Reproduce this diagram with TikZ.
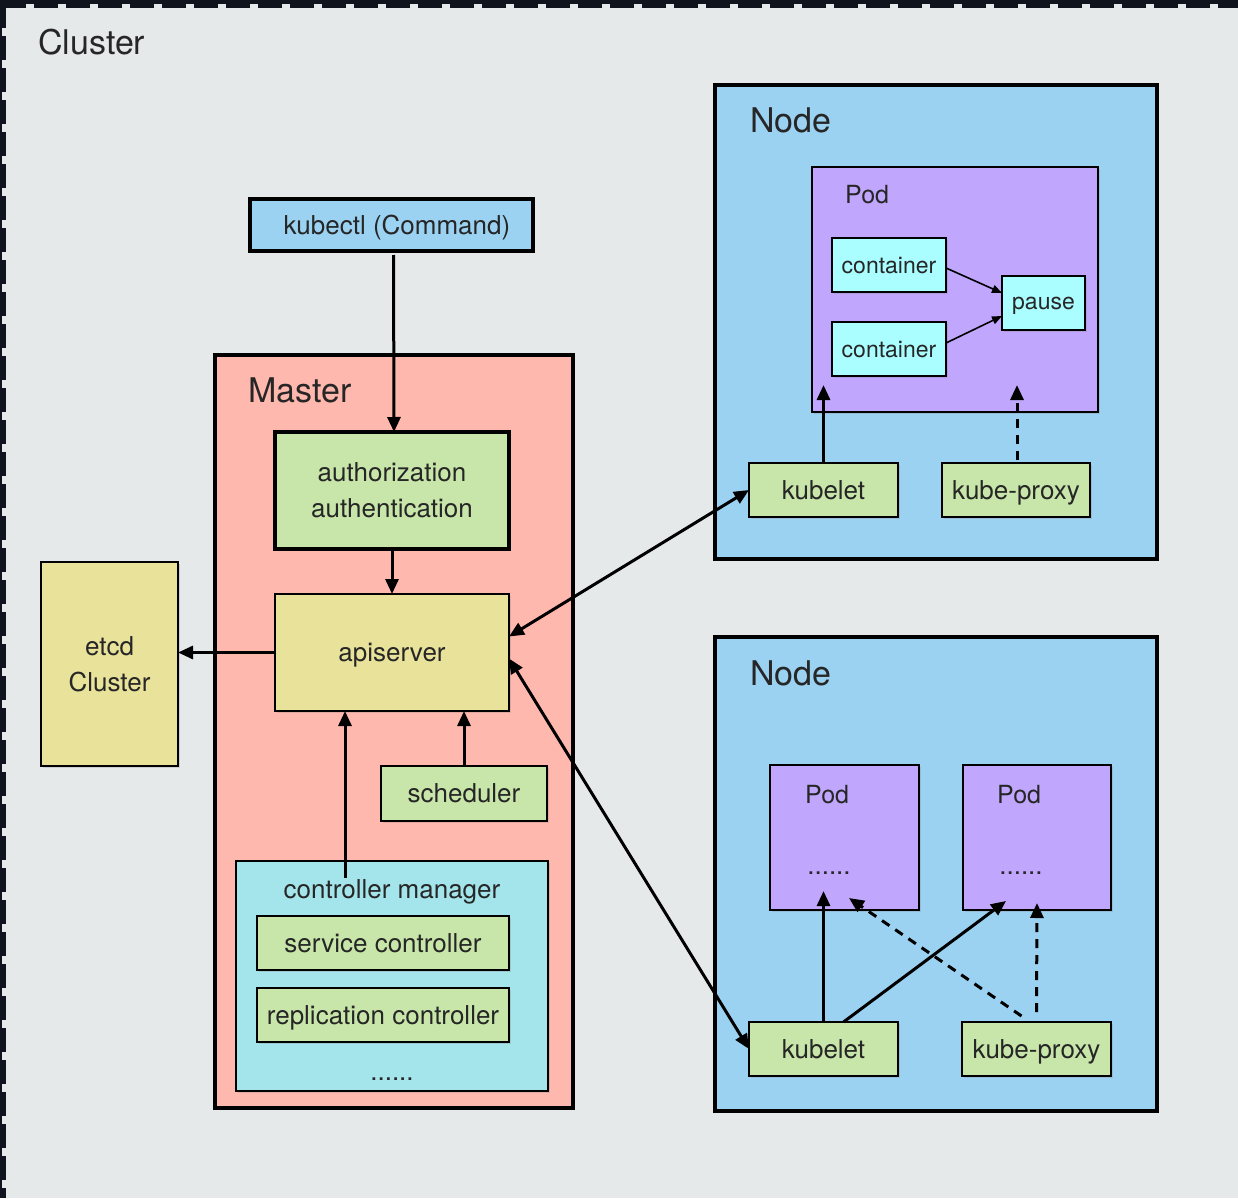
\documentclass[tikz,border=0pt]{standalone}
\usepackage{fontspec}
\setmainfont{TeX Gyre Heros}
\usetikzlibrary{arrows.meta,shadows,calc}
\definecolor{darkbg}{HTML}{10141C}
\definecolor{clusterbg}{HTML}{E6E9EA}
\definecolor{blue}{HTML}{9BD2F2}
\definecolor{master}{HTML}{FFB8AD}
\definecolor{green}{HTML}{C8E6A9}
\definecolor{khaki}{HTML}{E8E29A}
\definecolor{cyanbox}{HTML}{A3E5EA}
\definecolor{purple}{HTML}{C1A6FD}
\definecolor{contbox}{HTML}{AAFEFF}
\definecolor{txt}{HTML}{262626}
\tikzset{
  basebox/.style={draw=black, inner sep=0pt, outer sep=0pt, text=txt, align=center,
    text depth=0pt, font=\fontsize{26}{36}\selectfont,
    drop shadow={shadow xshift=2pt, shadow yshift=-2pt, opacity=0.25}},
  thinbox/.style={basebox, line width=1.6pt},
  thickbox/.style={basebox, line width=3.2pt},
  title/.style={text=txt, inner sep=0pt, anchor=base west, font=\fontsize{34}{40}\selectfont},
  podtitle/.style={text=txt, inner sep=0pt, anchor=base west, font=\fontsize{25}{30}\selectfont},
  lbl/.style={text=txt, inner sep=0pt, anchor=base, font=\fontsize{26}{30}\selectfont},
  arr/.style={line width=3pt, -{Triangle[length=15pt,width=13pt]}},
  dblarr/.style={line width=3pt, {Triangle[length=15pt,width=13pt]}-{Triangle[length=15pt,width=13pt]}},
  dasharr/.style={arr, dash pattern=on 9pt off 7pt},
  smallarr/.style={line width=1.6pt, -{Triangle[length=10pt,width=8pt]}},
}
\begin{document}
\begin{tikzpicture}[x=1pt,y=-1pt]
\useasboundingbox (0,0) rectangle (1238,1198);
% cluster background
\fill[darkbg] (0,0) rectangle (1238,1198);
\fill[clusterbg] (2,4) rectangle (1238,1198);
\draw[darkbg, line width=4pt, dash pattern=on 24pt off 8pt] (2,6) -- (1238,6);
\draw[darkbg, line width=4pt, dash pattern=on 24pt off 8pt] (4,4) -- (4,1198);
\node[title] (clusterlbl) at (38,55) {Cluster};

% kubectl
\node[thickbox, fill=blue, minimum width=283pt, minimum height=52pt] (kubectl) at (391.5,225) {\hspace*{11pt}kubectl (Command)};

% master
\node[thickbox, fill=master, minimum width=358pt, minimum height=753pt] (master) at (394,731.5) {};
\node[title] (masterlbl) at (248,402) {Master};
\node[thickbox, fill=green, minimum width=234pt, minimum height=117pt] (auth) at (392,490.5) {authorization\\authentication};
\node[thinbox, fill=khaki, minimum width=234pt, minimum height=117pt] (apiserver) at (392,652.5) {apiserver};
\node[thinbox, fill=khaki, minimum width=137pt, minimum height=204pt] (etcd) at (109.5,664) {etcd\\Cluster};
\node[thinbox, fill=green, minimum width=166pt, minimum height=55pt] (scheduler) at (464,793.5) {scheduler};
\node[thinbox, fill=cyanbox, minimum width=312pt, minimum height=230pt] (ctrl) at (392,976) {};
\node[lbl] (ctrllbl) at (392,898) {controller manager};
\node[thinbox, fill=green, minimum width=252pt, minimum height=54pt] (svc) at (383,943) {service controller};
\node[thinbox, fill=green, minimum width=252pt, minimum height=54pt] (repl) at (383,1015) {replication controller};
\node[lbl] (ctrldots) at (392,1080) {......};

% node 1
\node[thickbox, fill=blue, minimum width=442pt, minimum height=474pt] (node1) at (936,322) {};
\node[title] (node1lbl) at (750,133) {Node};
\node[thinbox, fill=purple, minimum width=286pt, minimum height=245pt] (pod1) at (955,289.5) {};
\node[podtitle] (pod1lbl) at (845,204) {Pod};
\node[thinbox, fill=contbox, minimum width=114pt, minimum height=54pt, font=\fontsize{23}{28}\selectfont] (cont1) at (889,265) {container};
\node[thinbox, fill=contbox, minimum width=114pt, minimum height=54pt, font=\fontsize{23}{28}\selectfont] (cont2) at (889,349) {container};
\node[thinbox, fill=contbox, minimum width=83pt, minimum height=54pt, font=\fontsize{23}{28}\selectfont] (pause) at (1043.5,303) {pause};
\node[thinbox, fill=green, minimum width=149pt, minimum height=54pt] (kubelet1) at (823.5,490) {kubelet};
\node[thinbox, fill=green, minimum width=148pt, minimum height=54pt] (proxy1) at (1016,490) {kube-proxy};

% node 2
\node[thickbox, fill=blue, minimum width=442pt, minimum height=474pt] (node2) at (936,874) {};
\node[title] (node2lbl) at (750,685) {Node};
\node[thinbox, fill=purple, minimum width=149pt, minimum height=145pt] (pod2a) at (844.5,837.5) {};
\node[podtitle] (pod2albl) at (805,803) {Pod};
\node[lbl] (pod2adots) at (829,874) {......};
\node[thinbox, fill=purple, minimum width=148pt, minimum height=145pt] (pod2b) at (1037,837.5) {};
\node[podtitle] (pod2blbl) at (997,803) {Pod};
\node[lbl] (pod2bdots) at (1021,874) {......};
\node[thinbox, fill=green, minimum width=149pt, minimum height=54pt] (kubelet2) at (823.5,1049) {kubelet};
\node[thinbox, fill=green, minimum width=149pt, minimum height=54pt] (proxy2) at (1036.5,1049) {kube-proxy};

% coordinates for free ends
\coordinate (cmtop) at (345,878);
\coordinate (p1a) at (823.5,385);
\coordinate (p1b) at (1017,385);
\coordinate (p2a) at (823.5,891);
\coordinate (p2b) at (1006,901);
\coordinate (p2c) at (849,898);
\coordinate (p2d) at (1037,903);

% arrows
\draw[arr] ([xshift=2pt,yshift=-4pt]kubectl.south) -- ([xshift=2pt]auth.north);
\draw[arr] (auth) -- (apiserver);
\draw[arr] (apiserver.west) -- (apiserver.west -| etcd.east);
\draw[arr] (scheduler.north) -- (scheduler.north |- apiserver.south);
\draw[arr] (cmtop) -- (cmtop |- apiserver.south);
\draw[dblarr] ([yshift=16pt]apiserver.east) -- (kubelet1.west);
\draw[dblarr] ([yshift=-6pt]apiserver.east) -- (kubelet2.west);
\draw[smallarr] ([yshift=-3pt]cont1.east) -- ([yshift=10pt]pause.west);
\draw[smallarr] ([yshift=6pt]cont2.east) -- ([yshift=-13pt]pause.west);
\draw[arr] (kubelet1.north) -- (p1a);
\draw[dasharr] ([xshift=1pt,yshift=3pt]proxy1.north) -- (p1b);
\draw[arr] (kubelet2.north) -- (p2a);
\draw[arr] ([xshift=20pt]kubelet2.north) -- (p2b);
\draw[dasharr] ([xshift=-15pt,yshift=6pt]proxy2.north) -- (p2c);
\draw[dasharr] ([yshift=10pt]proxy2.north) -- (p2d);
\end{tikzpicture}
\end{document}
